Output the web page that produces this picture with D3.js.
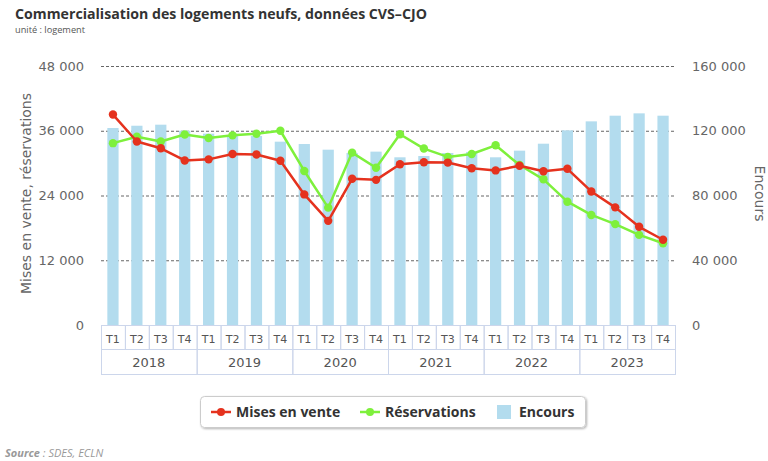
<!DOCTYPE html>
<html><head><meta charset="utf-8">
<script src="https://cdn.jsdelivr.net/npm/d3@7"></script>
<style>
html,body{margin:0;padding:0;background:#fff;}
svg{display:block;font-family:"DejaVu Sans",sans-serif;}
</style></head>
<body>
<svg id="chart" width="768" height="461"></svg>
<script>
const years = ["2018","2019","2020","2021","2022","2023"];
const quarters = ["T1","T2","T3","T4"];
const misesEnVente = [39000,34000,32750,30500, 30700,31700,31600,30450, 24200,19300,27100,26900, 29800,30150,30100,29050, 28650,29500,28500,28950, 24750,21800,18200,15800];
const reservations = [33700,34900,34000,35300, 34650,35150,35450,36000, 28550,21750,31950,29150, 35350,32700,31150,31700, 33300,29650,27000,22850, 20400,18700,16700,15150];
const encours = [121700,123100,123750,120000, 118200,117200,116800,113250, 111800,108300,106250,107100, 103600,104400,106250,106900, 103600,107700,112000,120250, 125800,129300,130750,129300];
const leftTicks = [0,12000,24000,36000,48000];
const rightTicks = [0,40000,80000,120000,160000];

const cats = [];
years.forEach(y => quarters.forEach(q => cats.push(y + "-" + q)));

const svg = d3.select("#chart");
const X0 = 101, X1 = 675, Y0 = 66, Y1 = 325;
const fmt = v => d3.format(",")(v).replace(/,/g, " ");

const x = d3.scaleBand().domain(cats).range([X0, X1]).paddingInner(0.53).paddingOuter(0.265);
const xc = d3.scaleBand().domain(cats).range([X0, X1]);
const yL = d3.scaleLinear().domain([0, 48000]).range([Y1, Y0]);
const yR = d3.scaleLinear().domain([0, 160000]).range([Y1, Y0]);

function fitWidth(sel, w) {
  const len = sel.node().getComputedTextLength();
  const fs = parseFloat(sel.attr("font-size"));
  sel.attr("font-size", (fs * w / len).toFixed(2));
}

// Titles
const title = svg.append("text").attr("x", 15).attr("y", 19).attr("font-family", "'Open Sans',sans-serif")
  .attr("font-weight", "bold").attr("font-size", 15).attr("fill", "#333")
  .text("Commercialisation des logements neufs, données CVS\u2013CJO");
fitWidth(title, 412);
const sub = svg.append("text").attr("x", 15).attr("y", 33).attr("font-family", "'Open Sans',sans-serif")
  .attr("font-size", 10.5).attr("fill", "#555").text("unité : logement");
fitWidth(sub, 70);

// Grid
const grid = svg.append("g");
leftTicks.filter(t => t > 0).forEach(t => {
  grid.append("line").attr("x1", X0).attr("x2", X1).attr("y1", yL(t) + 0.5).attr("y2", yL(t) + 0.5)
    .attr("stroke", "#666").attr("stroke-dasharray", "3,2").attr("stroke-width", 1);
});

// Axis labels
const lAx = svg.append("g").attr("transform", `translate(${X0 - 17},0)`)
  .call(d3.axisLeft(yL).tickValues(leftTicks).tickFormat(fmt).tickSize(0).tickPadding(0));
lAx.select(".domain").remove();
lAx.selectAll("text").attr("font-size", 13).attr("fill", "#666").attr("font-family", "'DejaVu Sans',sans-serif");
const rAx = svg.append("g").attr("transform", `translate(${X1 + 17},0)`)
  .call(d3.axisRight(yR).tickValues(rightTicks).tickFormat(fmt).tickSize(0).tickPadding(0));
rAx.select(".domain").remove();
rAx.selectAll("text").attr("font-size", 13).attr("fill", "#666").attr("font-family", "'DejaVu Sans',sans-serif");

svg.append("text").attr("transform", `translate(31,${(Y0 + Y1) / 2 - 2}) rotate(-90)`)
  .attr("text-anchor", "middle").attr("font-size", 14).attr("fill", "#666")
  .text("Mises en vente, réservations");
svg.append("text").attr("transform", `translate(755,${(Y0 + Y1) / 2 - 2}) rotate(90)`)
  .attr("text-anchor", "middle").attr("font-size", 14).attr("fill", "#666")
  .text("Encours");

// Bars
svg.append("g").selectAll("rect").data(encours).join("rect")
  .attr("x", (d, i) => x(cats[i])).attr("width", x.bandwidth())
  .attr("y", d => yR(d)).attr("height", d => Y1 - yR(d))
  .attr("fill", "#b3dcee");

// Category axis boxes
const catG = svg.append("g");
const rowTop = 325.5, rowMid = 349.5, rowBot = 374.5;
cats.forEach((c, i) => {
  catG.append("rect").attr("x", xc(c) + 0.5).attr("y", rowTop).attr("width", xc.bandwidth()).attr("height", rowMid - rowTop)
    .attr("fill", "none").attr("stroke", "#ccd6eb");
  catG.append("text").attr("x", xc(c) + xc.bandwidth() / 2).attr("y", rowTop + 17)
    .attr("text-anchor", "middle").attr("font-size", 11).attr("fill", "#555").text(quarters[i % 4]);
});
years.forEach((y, j) => {
  const xs = xc(y + "-T1"), xe = xc(y + "-T4") + xc.bandwidth();
  catG.append("rect").attr("x", xs + 0.5).attr("y", rowMid).attr("width", xe - xs).attr("height", rowBot - rowMid)
    .attr("fill", "none").attr("stroke", "#ccd6eb");
  catG.append("text").attr("x", (xs + xe) / 2).attr("y", rowMid + 17)
    .attr("text-anchor", "middle").attr("font-size", 13).attr("fill", "#555").text(y);
});

// Lines
const cx = i => xc(cats[i]) + xc.bandwidth() / 2;
function drawLine(data, color) {
  const g = svg.append("g");
  g.append("path").datum(data)
    .attr("d", d3.line().x((d, i) => cx(i)).y(d => yL(d)))
    .attr("fill", "none").attr("stroke", color).attr("stroke-width", 2.5).attr("stroke-linejoin", "round");
  g.selectAll("circle").data(data).join("circle")
    .attr("cx", (d, i) => cx(i)).attr("cy", d => yL(d)).attr("r", 4.2).attr("fill", color);
}
drawLine(reservations, "#7ef03c");
drawLine(misesEnVente, "#e5321e");

// Legend
const lg = svg.append("g");
const defs = svg.append("defs");
const f = defs.append("filter").attr("id", "sh").attr("x", "-10%").attr("y", "-30%").attr("width", "120%").attr("height", "160%");
f.append("feDropShadow").attr("dx", 1).attr("dy", 1).attr("stdDeviation", 1).attr("flood-color", "#000").attr("flood-opacity", 0.3);
lg.append("rect").attr("x", 200.5).attr("y", 396.5).attr("width", 385).attr("height", 31).attr("rx", 4)
  .attr("fill", "#fff").attr("stroke", "#ccc").attr("filter", "url(#sh)");
const items = [
  {name: "Mises en vente", color: "#e5321e", type: "line", x: 211},
  {name: "Réservations", color: "#7ef03c", type: "line", x: 360},
  {name: "Encours", color: "#b3dcee", type: "bar", x: 497}
];
items.forEach(it => {
  if (it.type === "line") {
    lg.append("line").attr("x1", it.x).attr("x2", it.x + 20).attr("y1", 412).attr("y2", 412).attr("stroke", it.color).attr("stroke-width", 2.5);
    lg.append("circle").attr("cx", it.x + 10).attr("cy", 412).attr("r", 4).attr("fill", it.color);
  } else {
    lg.append("rect").attr("x", it.x).attr("y", 405).attr("width", 14).attr("height", 14).attr("fill", it.color);
  }
  lg.append("text").attr("x", it.x + (it.type === "line" ? 25 : 22)).attr("y", 417)
    .attr("font-size", 14).attr("font-weight", "bold").attr("fill", "#333")
    .attr("font-family", "'Open Sans',sans-serif").text(it.name);
});

// Source
const src = svg.append("text").attr("x", 5).attr("y", 457).attr("font-size", 11).attr("fill", "#999")
  .attr("font-style", "italic").attr("font-family", "'Open Sans',sans-serif");
src.append("tspan").attr("font-weight", "bold").text("Source");
src.append("tspan").text(" : SDES, ECLN");
</script>
</body></html>
